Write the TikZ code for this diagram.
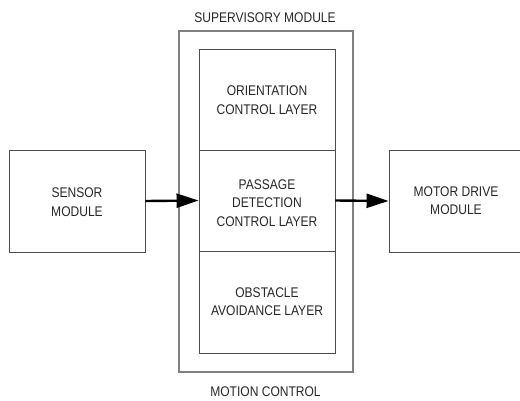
\documentclass[tikz,border=0pt]{standalone}
\usepackage{fontspec}
\setmainfont{Liberation Sans}[FakeStretch=0.86]
\usetikzlibrary{arrows.meta}
\begin{document}
\begin{tikzpicture}[x=1pt,y=-1pt,
  lbl/.style={font=\fontsize{14}{18.5}\selectfont, text=black!85, align=center, inner sep=0pt},
  blk/.style={draw=black!70, line width=0.9pt, inner sep=0pt},
  outerbox/.style={draw=black!50, line width=1.4pt, inner sep=0pt},
  flow/.style={draw=black, line width=2.4pt, -{Triangle[length=22pt,width=14pt]}, shorten >=0pt}]
\useasboundingbox (0,0) rectangle (520,400);
\clip (0,0) rectangle (520,400);
% outer supervisory box
\node[outerbox, minimum width=174pt, minimum height=341pt] (outer) at (266,201.5) {};
% inner layers
\node[blk, minimum width=136pt, minimum height=101pt] (orient) at (267,99.5) {};
\node[blk, minimum width=136pt, minimum height=101pt] (passage) at (267,200.5) {};
\node[blk, minimum width=136pt, minimum height=102pt] (obst) at (267,302) {};
\node[lbl] at (267,100) {ORIENTATION\\CONTROL LAYER};
\node[lbl] at (267,203) {PASSAGE\\DETECTION\\CONTROL LAYER};
\node[lbl] at (267,301.5) {OBSTACLE\\AVOIDANCE LAYER};
% side modules
\node[blk, minimum width=136pt, minimum height=102pt] (sensor) at (77,201) {};
\node[lbl] at (77,202) {SENSOR\\MODULE};
\node[blk, minimum width=134pt, minimum height=102pt] (motor) at (456,201) {};
\node[lbl] at (456,200.5) {MOTOR DRIVE\\MODULE};
% titles
\node[lbl] (sup) at (265,17.5) {SUPERVISORY MODULE};
\node[lbl] (mot) at (265.5,391.5) {MOTION CONTROL};
% arrows
\draw[flow] (sensor.east) -- (passage.west);
\draw[flow] (passage.east) -- (motor.west);
\end{tikzpicture}
\end{document}
